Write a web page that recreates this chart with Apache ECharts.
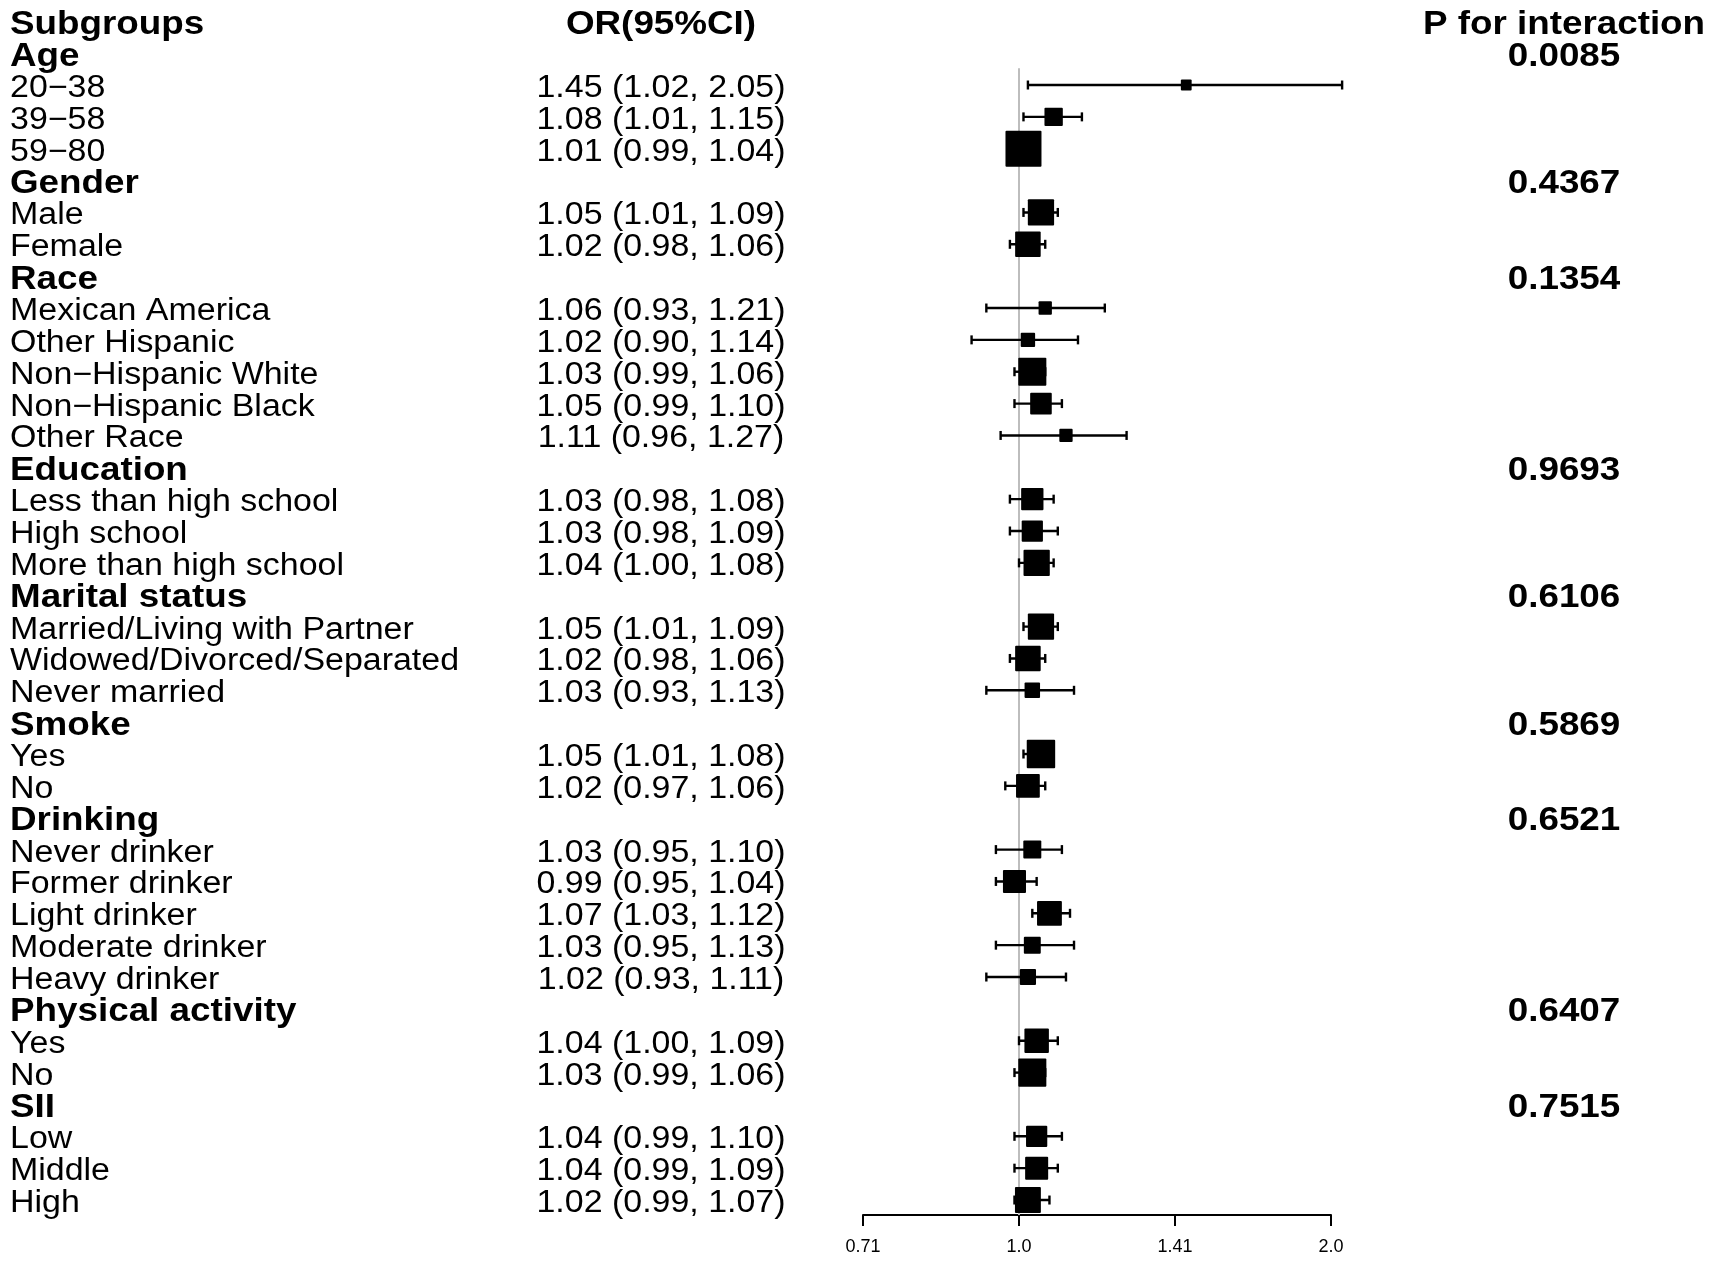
<!DOCTYPE html>
<html lang="en">
<head>
<meta charset="UTF-8">
<script src="https://cdn.jsdelivr.net/npm/echarts@6/dist/echarts.min.js"></script>
<style>
  html, body { margin: 0; padding: 0; background: #fff; }
  #chart { width: 1712px; height: 1263px; }
</style>
</head>
<body>
<div id="chart"></div>
<script>
// header texts
var headers = ['Subgroups', 'OR(95%CI)', 'P for interaction'];

// one entry per row below the header; group rows have no OR
var labels = ['Age', '20\u221238', '39\u221258', '59\u221280',
  'Gender', 'Male', 'Female',
  'Race', 'Mexican America', 'Other Hispanic', 'Non\u2212Hispanic White', 'Non\u2212Hispanic Black', 'Other Race',
  'Education', 'Less than high school', 'High school', 'More than high school',
  'Marital status', 'Married/Living with Partner', 'Widowed/Divorced/Separated', 'Never married',
  'Smoke', 'Yes', 'No',
  'Drinking', 'Never drinker', 'Former drinker', 'Light drinker', 'Moderate drinker', 'Heavy drinker',
  'Physical activity', 'Yes', 'No',
  'SII', 'Low', 'Middle', 'High'];
var orVals = [null, 1.45, 1.08, 1.01, null, 1.05, 1.02, null, 1.06, 1.02, 1.03, 1.05, 1.11,
  null, 1.03, 1.03, 1.04, null, 1.05, 1.02, 1.03, null, 1.05, 1.02,
  null, 1.03, 0.99, 1.07, 1.03, 1.02, null, 1.04, 1.03, null, 1.04, 1.04, 1.02];
var lowerVals = [null, 1.02, 1.01, 0.99, null, 1.01, 0.98, null, 0.93, 0.90, 0.99, 0.99, 0.96,
  null, 0.98, 0.98, 1.00, null, 1.01, 0.98, 0.93, null, 1.01, 0.97,
  null, 0.95, 0.95, 1.03, 0.95, 0.93, null, 1.00, 0.99, null, 0.99, 0.99, 0.99];
var upperVals = [null, 2.05, 1.15, 1.04, null, 1.09, 1.06, null, 1.21, 1.14, 1.06, 1.10, 1.27,
  null, 1.08, 1.09, 1.08, null, 1.09, 1.06, 1.13, null, 1.08, 1.06,
  null, 1.10, 1.04, 1.12, 1.13, 1.11, null, 1.09, 1.06, null, 1.10, 1.09, 1.07];
// relative box weights (largest = 1)
var weights = [null, 0.30, 0.51, 1.00, null, 0.73, 0.71, null, 0.37, 0.40, 0.78, 0.60, 0.37,
  null, 0.62, 0.59, 0.73, null, 0.73, 0.71, 0.43, null, 0.79, 0.66,
  null, 0.50, 0.64, 0.69, 0.47, 0.45, null, 0.68, 0.78, null, 0.59, 0.64, 0.72];
var pVals = ['0.0085', null, null, null, '0.4367', null, null, '0.1354', null, null, null, null, null,
  '0.9693', null, null, null, '0.6106', null, null, null, '0.5869', null, null,
  '0.6521', null, null, null, null, null, '0.6407', null, null, '0.7515', null, null, null];

var tickLabels = ['0.71', '1.0', '1.41', '2.0'];

var FONT = '"Liberation Sans", Arial, Helvetica, sans-serif';
var BOX_MAX = 36;
var COL_LABEL = 10, COL_OR = 661, COL_P = 1564;

function log2(v) { return Math.log(v) / Math.LN2; }

var forestData = [];
var textData = [];
textData.push([0, 0]);
labels.forEach(function (l, i) {
  textData.push([0, i + 1]);
  if (orVals[i] != null) {
    forestData.push([log2(orVals[i]), i + 1, log2(lowerVals[i]), log2(upperVals[i]), weights[i]]);
  }
});

function txt(x, y, s, bold, align) {
  return {
    type: 'text', x: x, y: y,
    scaleX: bold ? 1.115 : 1.095,
    style: {
      text: s, fill: '#000', align: align, verticalAlign: 'middle',
      fontFamily: FONT, fontSize: bold ? 33 : 31, fontWeight: bold ? 'bold' : 'normal'
    }
  };
}

var chart = echarts.init(document.getElementById('chart'));
chart.setOption({
  backgroundColor: '#fff',
  animation: false,
  grid: { left: 863, right: 381, top: 21.3, bottom: 48 },
  xAxis: {
    type: 'value', min: -0.5, max: 1, interval: 0.5,
    position: 'bottom',
    axisLine: { onZero: false, lineStyle: { color: '#000', width: 2 } },
    axisTick: { length: 11, lineStyle: { color: '#000', width: 2 } },
    splitLine: { show: false },
    axisLabel: {
      margin: 23, color: '#000', fontSize: 18, fontFamily: FONT,
      formatter: function (v) { return tickLabels[Math.round((v + 0.5) / 0.5)]; }
    }
  },
  yAxis: { type: 'value', min: 0, max: 37.47, inverse: true, show: false },
  series: [
    {
      type: 'custom',
      name: 'ref',
      silent: true,
      clip: false,
      z: 1,
      data: [[0]],
      renderItem: function (params, api) {
        var a = api.coord([0, 1.47]);
        var b = api.coord([0, 37.47]);
        return {
          type: 'line',
          shape: { x1: a[0], y1: a[1], x2: b[0], y2: b[1] },
          style: { stroke: '#bdbdbd', lineWidth: 2 }
        };
      }
    },
    {
      type: 'custom',
      name: 'forest',
      clip: false,
      z: 3,
      data: forestData,
      renderItem: function (params, api) {
        var c = api.coord([api.value(0), api.value(1)]);
        var lo = api.coord([api.value(2), api.value(1)]);
        var hi = api.coord([api.value(3), api.value(1)]);
        var s = api.value(4) * BOX_MAX;
        var cap = 4.5;
        var st = { stroke: '#000', lineWidth: 2.4 };
        return {
          type: 'group',
          children: [
            { type: 'line', shape: { x1: lo[0], y1: c[1], x2: hi[0], y2: c[1] }, style: st },
            { type: 'line', shape: { x1: lo[0], y1: c[1] - cap, x2: lo[0], y2: c[1] + cap }, style: st },
            { type: 'line', shape: { x1: hi[0], y1: c[1] - cap, x2: hi[0], y2: c[1] + cap }, style: st },
            { type: 'rect', shape: { x: c[0] - s / 2, y: c[1] - s / 2, width: s, height: s, r: 1 }, style: { fill: '#000' } }
          ]
        };
      }
    },
    {
      type: 'custom',
      name: 'text',
      silent: true,
      clip: false,
      z: 4,
      data: textData,
      renderItem: function (params, api) {
        var row = api.value(1);
        var y = api.coord([0, row])[1] + 3.5;
        var kids = [];
        if (row === 0) {
          kids.push(txt(COL_LABEL, y, headers[0], true, 'left'));
          kids.push(txt(COL_OR, y, headers[1], true, 'center'));
          kids.push(txt(COL_P, y, headers[2], true, 'center'));
        } else {
          var i = row - 1;
          var isGroup = orVals[i] == null;
          kids.push(txt(COL_LABEL, y, labels[i], isGroup, 'left'));
          if (!isGroup) {
            var s = orVals[i].toFixed(2) + ' (' + lowerVals[i].toFixed(2) + ', ' + upperVals[i].toFixed(2) + ')';
            kids.push(txt(COL_OR, y, s, false, 'center'));
          }
          if (pVals[i]) kids.push(txt(COL_P, y, pVals[i], true, 'center'));
        }
        return { type: 'group', children: kids };
      }
    }
  ]
});
</script>
</body>
</html>
